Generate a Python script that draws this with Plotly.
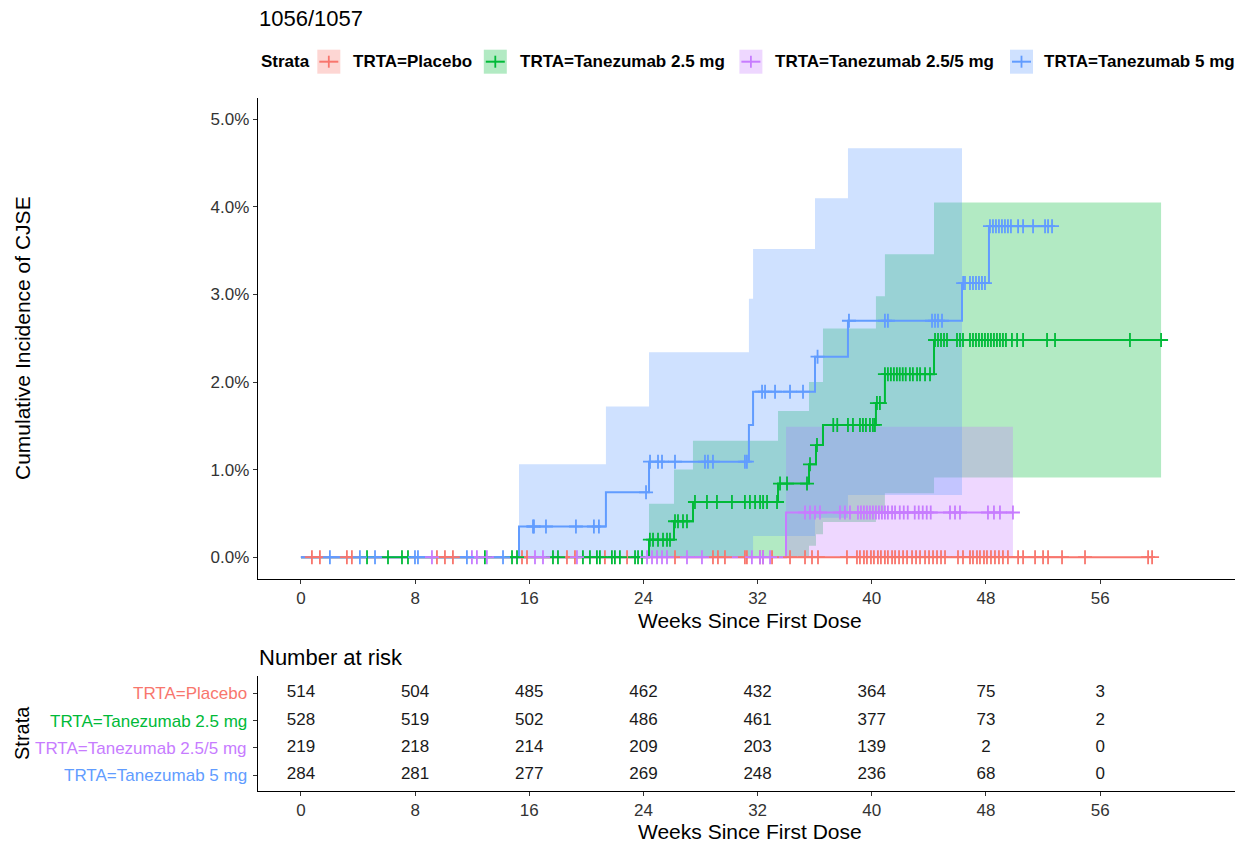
import plotly.graph_objects as go

# ---------------- data ----------------
week_ticks = [0, 8, 16, 24, 32, 40, 48, 56]
pct_ticks = [0, 1, 2, 3, 4, 5]
pct_labels = ["0.0%", "1.0%", "2.0%", "3.0%", "4.0%", "5.0%"]

groups = ["TRTA=Placebo", "TRTA=Tanezumab 2.5 mg", "TRTA=Tanezumab 2.5/5 mg", "TRTA=Tanezumab 5 mg"]
colors = ["#F8766D", "#00BA38", "#C77CFF", "#619CFF"]
fills = ["rgba(248,118,109,0.3)", "rgba(0,186,56,0.3)", "rgba(199,124,255,0.3)", "rgba(97,156,255,0.3)"]

# cumulative incidence step curves (weeks, %)
placebo_t = [0, 59.64]
placebo_v = [0, 0]
t25_t = [0, 24.39, 26.14, 27.47, 33.43, 35.60, 36.09, 36.58, 40.29, 40.92, 44.36, 60.27]
t25_v = [0, 0.20, 0.41, 0.63, 0.84, 1.06, 1.28, 1.51, 1.76, 2.09, 2.48, 2.48]
t255_t = [0, 33.99, 49.89]
t255_v = [0, 0.51, 0.51]
t5_t = [0, 15.28, 21.37, 24.39, 31.39, 31.68, 36.02, 38.33, 46.32, 48.21, 52.70]
t5_v = [0, 0.35, 0.74, 1.09, 1.51, 1.89, 2.29, 2.70, 3.13, 3.78, 3.78]

# confidence bands (weeks, lower %, upper %)
t25_band_t = [24.39, 26.14, 27.47, 33.43, 35.60, 36.09, 36.58, 40.29, 40.92, 44.36, 60.27]
t25_band_lo = [0, 0, 0, 0, 0.13, 0.26, 0.40, 0.52, 0.73, 0.91, 0.91]
t25_band_hi = [0.61, 1.00, 1.33, 1.67, 2.00, 2.00, 2.61, 2.98, 3.46, 4.05, 4.05]
t255_band_t = [33.99, 49.89]
t255_band_lo = [0, 0]
t255_band_hi = [1.49, 1.49]
t5_band_t = [15.28, 21.37, 24.39, 31.39, 31.68, 36.02, 38.33, 46.32]
t5_band_lo = [0, 0, 0, 0, 0.24, 0.45, 0.71, 0.71]
t5_band_hi = [1.06, 1.72, 2.34, 2.95, 3.52, 4.10, 4.67, 4.67]

# censoring times (weeks)
placebo_cens = [0.77, 1.33, 3.22, 3.57, 9.53, 10.09, 10.65, 15.49, 15.84, 18.64, 19.20, 21.30, 22.85,
                26.21, 28.87, 29.22, 29.71, 31.11, 31.25, 32.17, 32.38, 33.01, 34.27, 35.32, 35.81, 36.23,
                38.26, 38.96, 39.17, 39.45, 39.66, 39.94, 40.15, 40.43, 40.64, 40.92, 41.13, 41.42, 41.63,
                41.91, 42.19, 42.47, 42.82, 43.10, 43.38, 43.73, 44.01, 44.29, 44.57, 44.85, 45.13, 46.04,
                46.39, 46.88, 47.09, 47.37, 47.58, 47.86, 48.07, 48.35, 48.63, 48.91, 49.19, 49.54, 50.25,
                50.60, 51.44, 52.00, 52.35, 53.33, 54.94, 59.36, 59.64]
t25_cens = [4.63, 6.10, 7.08, 7.50, 12.89, 14.79, 15.14, 17.66, 18.01, 19.76, 20.25, 20.74, 20.95, 21.79,
            22.00, 22.35, 23.41, 23.62, 23.90, 24.45, 24.67, 25.02, 25.37, 25.65, 25.86, 26.21, 26.42,
            26.77, 27.05, 27.61, 28.45, 29.15, 30.20, 31.11, 31.46, 31.82, 32.17, 32.38, 32.66, 33.36,
            33.57, 34.06, 35.46, 35.67, 36.16, 37.30, 37.58, 38.33, 38.68, 39.17, 39.38, 39.59, 39.87,
            40.08, 40.22, 40.36, 40.57, 40.92, 41.13, 41.34, 41.55, 41.76, 41.96, 42.17, 42.38, 42.67,
            42.88, 43.17, 43.38, 43.73, 44.08, 44.43, 44.64, 44.85, 45.06, 45.27, 45.97, 46.18, 46.39,
            46.88, 47.09, 47.30, 47.51, 47.72, 47.93, 48.14, 48.35, 48.56, 48.77, 48.98, 49.19, 49.40,
            49.82, 50.18, 50.60, 52.28, 52.84, 58.09, 60.27]
t255_cens = [9.18, 11.98, 12.33, 13.03, 16.40, 16.96, 19.34, 24.25, 24.60, 24.95, 25.30, 25.65, 27.05,
             28.10, 31.60, 32.17, 32.38, 32.87, 35.32, 35.67, 36.02, 36.37, 37.77, 38.12, 38.47, 39.03,
             39.24, 39.45, 39.66, 39.87, 40.08, 40.29, 40.50, 40.71, 40.92, 41.13, 41.42, 41.63, 41.96,
             42.24, 42.52, 43.01, 43.29, 43.57, 43.85, 44.13, 45.48, 45.83, 46.18, 48.14, 48.56, 48.98,
             49.89]
t5_cens = [2.03, 4.13, 5.19, 7.99, 8.20, 11.63, 14.16, 16.26, 16.33, 17.17, 19.27, 20.53, 20.88, 24.18,
           24.46, 25.02, 25.30, 26.21, 28.31, 28.52, 28.87, 31.11, 31.25, 32.31, 32.52, 33.22, 34.27,
           35.18, 36.20, 38.40, 40.92, 41.13, 44.22, 44.43, 44.64, 44.92, 46.40, 46.53, 46.88, 47.09,
           47.30, 47.51, 47.72, 47.93, 48.28, 48.49, 48.70, 48.91, 49.12, 49.33, 49.54, 49.75, 50.25,
           50.60, 51.30, 52.14, 52.35, 52.63]

# number at risk
risk_placebo = [514, 504, 485, 462, 432, 364, 75, 3]
risk_t25 = [528, 519, 502, 486, 461, 377, 73, 2]
risk_t255 = [219, 218, 214, 209, 203, 139, 2, 0]
risk_t5 = [284, 281, 277, 269, 248, 236, 68, 0]

# ---------------- figure ----------------
W, H = 1250, 844
FONT = "Liberation Sans, Arial, sans-serif"


def px_x(p):
    return p / W


def px_y(p):
    return 1 - p / H


def step_value(ts, vs, t):
    v = vs[0]
    for ti, vi in zip(ts, vs):
        if ti <= t + 1e-9:
            v = vi
    return v


curves = [(placebo_t, placebo_v), (t25_t, t25_v), (t255_t, t255_v), (t5_t, t5_v)]
bands = [None, (t25_band_t, t25_band_lo, t25_band_hi), (t255_band_t, t255_band_lo, t255_band_hi),
         (t5_band_t, t5_band_lo, t5_band_hi)]
cens = [placebo_cens, t25_cens, t255_cens, t5_cens]
risks = [risk_placebo, risk_t25, risk_t255, risk_t5]

fig = go.Figure()

# bands
for i, b in enumerate(bands):
    if b is None:
        continue
    bt, lo, hi = b
    fig.add_trace(go.Scatter(x=bt, y=lo, mode="lines", line=dict(width=0, shape="hv"),
                             hoverinfo="skip", showlegend=False))
    fig.add_trace(go.Scatter(x=bt, y=hi, mode="lines", line=dict(width=0, shape="hv"),
                             fill="tonexty", fillcolor=fills[i], hoverinfo="skip", showlegend=False))

# step lines
for i, (ts, vs) in enumerate(curves):
    fig.add_trace(go.Scatter(x=ts, y=vs, mode="lines", line=dict(color=colors[i], width=2, shape="hv"),
                             name=groups[i], showlegend=False))

# censor marks
for i, cs in enumerate(cens):
    ts, vs = curves[i]
    ys = [step_value(ts, vs, c) for c in cs]
    fig.add_trace(go.Scatter(x=cs, y=ys, mode="markers",
                             marker=dict(symbol="cross-thin", size=10, color=colors[i],
                                         line=dict(color=colors[i], width=1.8)),
                             showlegend=False, hoverinfo="skip"))

# risk table
row_y = [4, 3, 2, 1]
for i, r in enumerate(risks):
    fig.add_trace(go.Scatter(x=week_ticks, y=[row_y[i]] * len(week_ticks), mode="text",
                             text=[str(v) for v in r], textposition="middle center",
                             textfont=dict(family=FONT, size=17, color="#1a1a1a"),
                             xaxis="x2", yaxis="y2", showlegend=False, hoverinfo="skip"))

x_dom = [px_x(257.7), px_x(1235)]
x_range = [-3.03, 65.45]
axis_common = dict(showline=True, linecolor="black", linewidth=1, ticks="outside", ticklen=4,
                   tickcolor="#333333", tickwidth=1, showgrid=False, zeroline=False,
                   tickfont=dict(family=FONT, size=17, color="#333333"))

fig.update_layout(
    width=W, height=H, margin=dict(l=0, r=0, t=0, b=0),
    plot_bgcolor="white", paper_bgcolor="white", showlegend=False,
    xaxis=dict(domain=x_dom, range=x_range, tickvals=week_ticks, anchor="y", **axis_common),
    yaxis=dict(domain=[px_y(578.5), px_y(98)], range=[-0.244, 5.244], tickvals=pct_ticks,
               ticktext=pct_labels, anchor="x", **axis_common),
    xaxis2=dict(domain=x_dom, range=x_range, tickvals=week_ticks, anchor="y2", **axis_common),
    yaxis2=dict(domain=[px_y(790.5), px_y(676)], range=[0.44, 4.63], tickvals=row_y,
                showticklabels=False, anchor="x2", **axis_common),
)

ann = []


def text(x, y, s, size, color="black", xanchor="left", bold=False, angle=0):
    ann.append(dict(x=px_x(x), y=px_y(y), xref="paper", yref="paper", text=(f"<b>{s}</b>" if bold else s),
                    showarrow=False, xanchor=xanchor, yanchor="middle", textangle=angle,
                    font=dict(family=FONT, size=size, color=color)))


text(257, 19, "1056/1057", 22)
text(22, 338, "Cumulative Incidence of CJSE", 21, xanchor="center", angle=-90)
text(750, 620, "Weeks Since First Dose", 21, xanchor="center")
text(257, 657, "Number at risk", 22)
text(750, 831, "Weeks Since First Dose", 21, xanchor="center")
text(22, 733, "Strata", 20, xanchor="center", angle=-90)
table_rows_px = [693.3, 721.7, 748.3, 775.0]
for i, g in enumerate(groups):
    text(248.5, table_rows_px[i], g, 17, color=colors[i], xanchor="right")

# legend (manual)
leg_y = 61.7
text(259, leg_y, "Strata", 17, bold=True)
key_left = [317.3, 483.8, 739.4, 1010.0]
label_left = [350.5, 518.0, 773.3, 1042.0]
shapes = []
for i, g in enumerate(groups):
    kx0 = key_left[i]
    kx1 = kx0 + 23
    shapes.append(dict(type="rect", xref="paper", yref="paper", x0=px_x(kx0), x1=px_x(kx1),
                       y0=px_y(leg_y + 12), y1=px_y(leg_y - 12), fillcolor=fills[i], line=dict(width=0),
                       layer="above"))
    shapes.append(dict(type="line", xref="paper", yref="paper", x0=px_x(kx0 + 2), x1=px_x(kx1 - 2),
                       y0=px_y(leg_y), y1=px_y(leg_y), line=dict(color=colors[i], width=2), layer="above"))
    cx = (kx0 + kx1) / 2
    shapes.append(dict(type="line", xref="paper", yref="paper", x0=px_x(cx), x1=px_x(cx),
                       y0=px_y(leg_y - 6), y1=px_y(leg_y + 6), line=dict(color=colors[i], width=1.8),
                       layer="above"))
    text(label_left[i], leg_y, g, 17, bold=True)

fig.update_layout(annotations=ann, shapes=shapes)
fig.write_html("out.html", config={"displayModeBar": False},
               post_script="document.body.style.margin='0px';document.body.style.overflow='hidden';")
